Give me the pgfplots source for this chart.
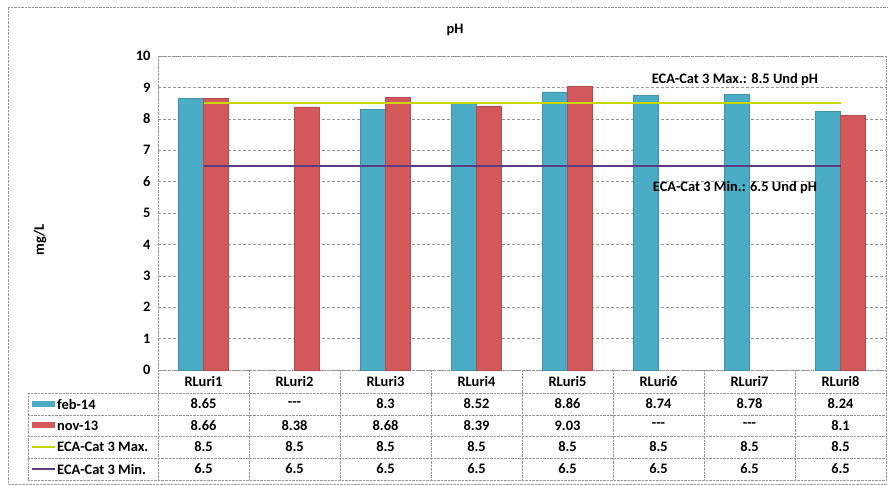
\documentclass[border=0pt]{standalone}
\usepackage{pgfplots}
\pgfplotsset{compat=1.18}
\usepackage{fontspec}
\setmainfont{Carlito}
\definecolor{cblue}{RGB}{75,172,198}
\definecolor{cred}{RGB}{210,88,90}
\definecolor{cyel}{RGB}{200,215,0}
\definecolor{cpur}{RGB}{90,60,130}
\definecolor{cgrid}{RGB}{150,150,150}
\newcommand{\ff}{\fontsize{14.5}{17}\selectfont\bfseries}
\begin{document}
\begin{tikzpicture}[x=1bp,y=1bp]
\useasboundingbox (0,0) rectangle (888,485);
\draw[cgrid, densely dotted] (8,1) rectangle (900,478);
\node[font=\ff] at (455,455) {pH};
\node[rotate=90, font=\ff] at (40,245) {mg/L};
\begin{axis}[at={(158bp,115bp)}, anchor=south west, scale only axis,
  width=728bp, height=314bp,
  xmin=-0.5, xmax=7.5, ymin=0, ymax=10,
  ytick={0,1,...,10}, xtick=\empty,
  ymajorgrids, grid style={cgrid, densely dashed},
  axis line style={cgrid, densely dotted},
  major tick length=0pt,
  ticklabel style={font=\ff},
  /pgf/number format/assume math mode=true,
  yticklabel style={xshift=-4bp},
  clip=false]
\addplot[ybar, bar width=0.275, bar shift=-0.1375, fill=cblue, draw=cblue!85!black]
  coordinates {(0,8.65) (2,8.3) (3,8.52) (4,8.86) (5,8.74) (6,8.78) (7,8.24)};
\addplot[ybar, bar width=0.275, bar shift=0.1375, fill=cred, draw=cred!85!black]
  coordinates {(0,8.66) (1,8.38) (2,8.68) (3,8.39) (4,9.03) (7,8.1)};
\addplot[sharp plot, no marks, cyel, line width=2.5bp]
  coordinates {(0,8.5) (1,8.5) (2,8.5) (3,8.5) (4,8.5) (5,8.5) (6,8.5) (7,8.5)};
\addplot[sharp plot, no marks, cpur, line width=1.8bp]
  coordinates {(0,6.5) (1,6.5) (2,6.5) (3,6.5) (4,6.5) (5,6.5) (6,6.5) (7,6.5)};
\node[font=\ff] at (axis cs:5.84,9.24) {ECA-Cat 3 Max.: 8.5 Und pH};
\node[font=\ff] at (axis cs:5.84,5.80) {ECA-Cat 3 Min.: 6.5 Und pH};
\end{axis}
% data table
\begin{scope}[cgrid, densely dotted]
\draw (158,115) -- (158,5);
\draw (28,92) -- (28,5);
\foreach \yy in {92,70,49,27,5} \draw (28,\yy) -- (886,\yy);
\foreach \k in {1,...,8} \draw ({158+91*\k},115) -- ({158+91*\k},5);
\end{scope}
\foreach \nm [count=\i from 0] in {RLuri1,RLuri2,RLuri3,RLuri4,RLuri5,RLuri6,RLuri7,RLuri8}
  \node[font=\ff] at ({203.5+91*\i},103.5) {\nm};
\foreach \v [count=\i from 0] in {8.65,{-}{-}{-},8.3,8.52,8.86,8.74,8.78,8.24}
  \node[font=\ff] at ({203.5+91*\i},81) {\v};
\foreach \v [count=\i from 0] in {8.66,8.38,8.68,8.39,9.03,{-}{-}{-},{-}{-}{-},8.1}
  \node[font=\ff] at ({203.5+91*\i},59.5) {\v};
\foreach \i in {0,...,7} {
  \node[font=\ff] at ({203.5+91*\i},38) {8.5};
  \node[font=\ff] at ({203.5+91*\i},16) {6.5};
}
\fill[cblue] (32,78) rectangle (55,84);
\fill[cred] (32,56.5) rectangle (55,62.5);
\draw[cyel, line width=1.2bp] (32,38) -- (55,38);
\draw[cpur, line width=1.2bp] (32,16) -- (55,16);
\node[font=\ff, anchor=west, inner sep=1bp] at (56,81) {feb-14};
\node[font=\ff, anchor=west, inner sep=1bp] at (56,59.5) {nov-13};
\node[font=\ff, anchor=west, inner sep=1bp] at (56,38) {ECA-Cat 3 Max.};
\node[font=\ff, anchor=west, inner sep=1bp] at (56,16) {ECA-Cat 3 Min.};
\end{tikzpicture}
\end{document}
